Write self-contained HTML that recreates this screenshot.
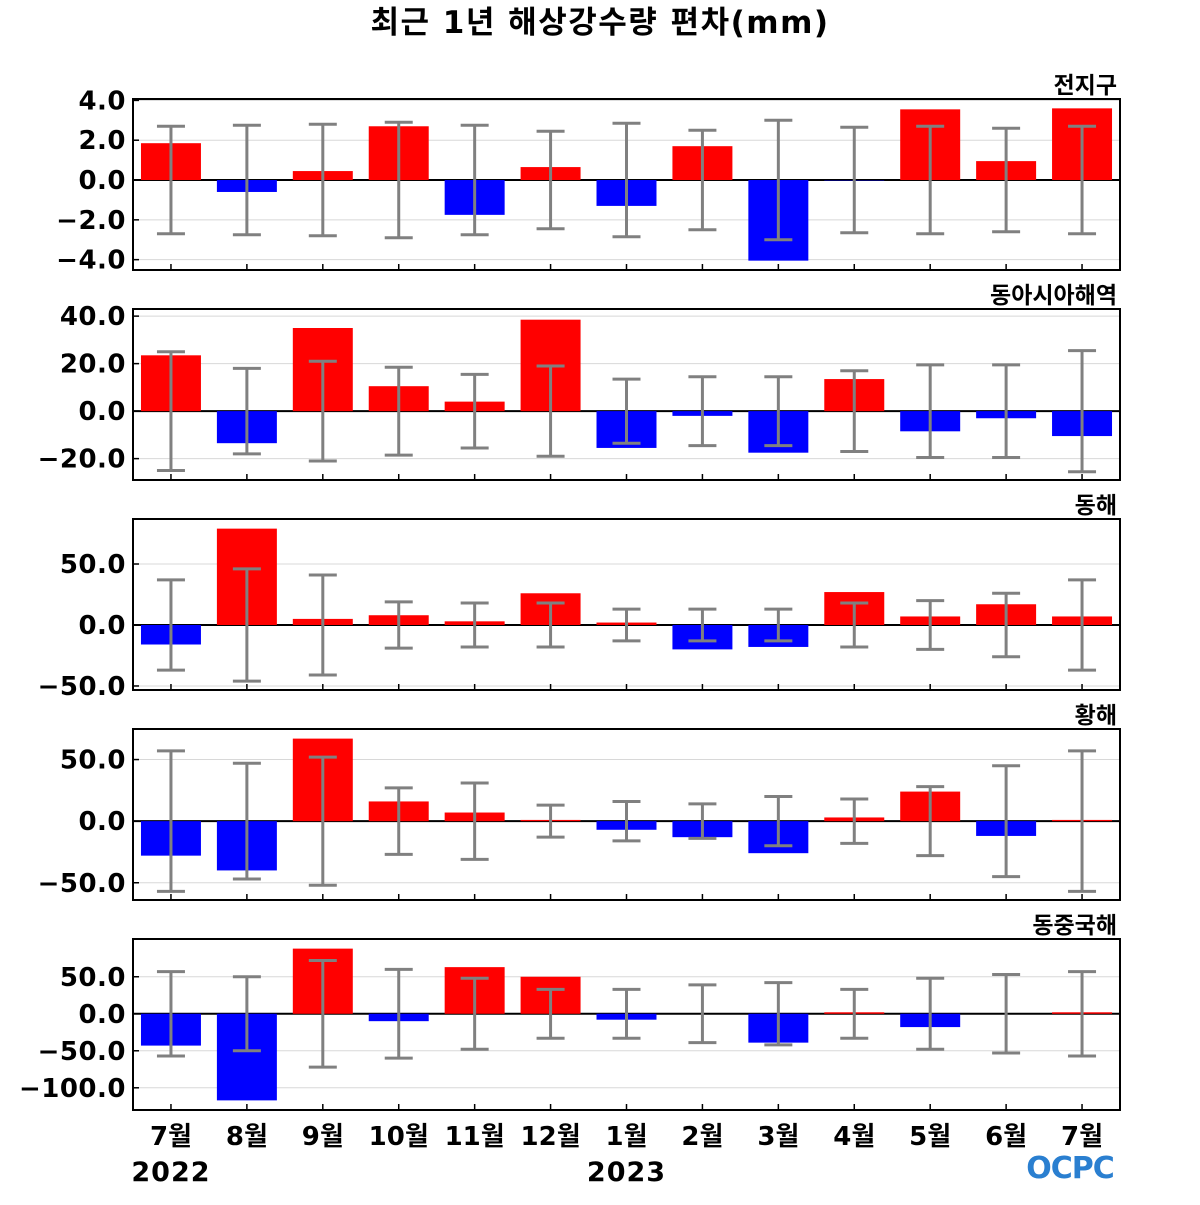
<!DOCTYPE html>
<html><head><meta charset="utf-8">
<style>
html,body{margin:0;padding:0;background:#fff;}
svg text{font-family:"DejaVu Sans","Liberation Sans","Noto Sans CJK KR",sans-serif;}
</style></head>
<body>
<svg id="chart" width="1200" height="1200" viewBox="0 0 1200 1200" xmlns="http://www.w3.org/2000/svg">
<text x="600" y="33" text-anchor="middle" font-size="31" font-weight="bold" letter-spacing="1.5" font-family="'DejaVu Sans','Noto Sans CJK KR',sans-serif">최근 1년 해상강수량 편차(mm)</text>
<g id="panels"></g>
<g>
<text x="1070" y="1178" text-anchor="middle" font-size="30" font-weight="bold" fill="#2a7fd0" font-family="'DejaVu Sans',sans-serif" letter-spacing="-1">OCPC</text>
</g>
</svg>
<script>
const months = ["7월","8월","9월","10월","11월","12월","1월","2월","3월","4월","5월","6월","7월"];
const regionNames = ["전지구","동아시아해역","동해","황해","동중국해"];
const valsGlobal = [1.85,-0.6,0.45,2.7,-1.75,0.65,-1.3,1.7,-4.05,-0.02,3.55,0.95,3.6];
const errGlobal = [2.7,2.75,2.8,2.9,2.75,2.45,2.85,2.5,3.0,2.65,2.7,2.6,2.7];
const valsEastAsia = [23.5,-13.5,35,10.5,4,38.5,-15.5,-2,-17.5,13.5,-8.5,-3,-10.5];
const errEastAsia = [25,18,21,18.5,15.5,19,13.5,14.5,14.5,17,19.5,19.5,25.5];
const valsEastSea = [-16,79,5,8,3,26,2,-20,-18,27,7,17,7];
const errEastSea = [37,46,41,19,18,18,13,13,13,18,20,26,37];
const valsYellowSea = [-28,-40,67,16,7,1,-7,-13,-26,3,24,-12,1];
const errYellowSea = [57,47,52,27,31,13,16,14,20,18,28,45,57];
const valsECS = [-43,-117,88,-10,63,50,-8,0,-39,2,-18,0,2];
const errECS = [57,50,72,60,48,33,33,39,42,33,48,53,57];
const ticksGlobal = [-4,-2,0,2,4];
const ticksEastAsia = [-20,0,20,40];
const ticksEastSea = [-50,0,50];
const ticksYellowSea = [-50,0,50];
const ticksECS = [-100,-50,0,50];

const NS="http://www.w3.org/2000/svg";
const L=133,R=1120;
const panels=[
 {name:"global",vals:valsGlobal,err:errGlobal,ticks:ticksGlobal,top:99,bot:270,ymin:-4.52,ymax:4.07,dec:1},
 {name:"east-asia",vals:valsEastAsia,err:errEastAsia,ticks:ticksEastAsia,top:309,bot:480,ymin:-29,ymax:43,dec:1},
 {name:"east-sea",vals:valsEastSea,err:errEastSea,ticks:ticksEastSea,top:519,bot:690,ymin:-53.3,ymax:86.9,dec:1},
 {name:"yellow-sea",vals:valsYellowSea,err:errYellowSea,ticks:ticksYellowSea,top:729,bot:900,ymin:-64,ymax:74.8,dec:1},
 {name:"east-china-sea",vals:valsECS,err:errECS,ticks:ticksECS,top:939,bot:1110,ymin:-130,ymax:101,dec:1}
];
const g=document.getElementById('panels');
function mk(tag,attrs,parent){const e=document.createElementNS(NS,tag);for(const k in attrs)e.setAttribute(k,attrs[k]);(parent||g).appendChild(e);return e;}
const n=months.length;
const xs=i=>L+(i+0.5)*(R-L)/n;
const bw=(R-L)/n*0.79;
panels.forEach((p,pi)=>{
 const y=v=>p.bot-(v-p.ymin)/(p.ymax-p.ymin)*(p.bot-p.top);
 const pg=mk('g',{});
 
 
 const t=mk('text',{x:R-3,y:p.top-6,'text-anchor':'end','font-size':23,'font-weight':'bold','font-family':"'Noto Sans CJK KR',sans-serif"},pg);
 t.textContent=regionNames[pi];
 
 
 p.ticks.forEach(tv=>{
  const yy=y(tv);
  if(tv!==0){const gl=mk('line',{x1:L,x2:R,y1:yy,y2:yy,stroke:'#d8d8d8','stroke-width':1},pg);
  
  }
  mk('line',{x1:L,x2:L+6,y1:yy,y2:yy,stroke:'#000','stroke-width':1.5},pg);
  const lb=mk('text',{x:126,y:yy+9,'text-anchor':'end','font-size':26,'font-weight':'bold','letter-spacing':'0.5'},pg);
  lb.textContent=(tv<0?'\u2212':'')+Math.abs(tv).toFixed(p.dec);
  
  
 });
 const y0=y(0);
 mk('line',{x1:L,x2:R,y1:y0,y2:y0,stroke:'#000','stroke-width':2},pg);
 p.vals.forEach((v,i)=>{
  const cx=xs(i);
  const r=mk('rect',{x:cx-bw/2,y:Math.min(y(v),y0),width:bw,height:Math.abs(y(v)-y0),fill:v>=0?'#ff0000':'#0000ff'},pg);
  
  
 });
 p.err.forEach((e,i)=>{
  const cx=xs(i),a=y(e),b=y(-e);
  const eg=mk('g',{stroke:'#808080','stroke-width':3},pg);
  
  
  mk('line',{x1:cx,x2:cx,y1:a,y2:b},eg);
  mk('line',{x1:cx-14,x2:cx+14,y1:a,y2:a},eg);
  mk('line',{x1:cx-14,x2:cx+14,y1:b,y2:b},eg);
  mk('line',{x1:cx,x2:cx,y1:p.bot,y2:p.bot-6,stroke:'#000','stroke-width':1.5},pg);
 });
 mk('rect',{x:L,y:p.top,width:R-L,height:p.bot-p.top,fill:'none',stroke:'#000','stroke-width':2},pg);
});
months.forEach((m,i)=>{
 const t=mk('text',{x:xs(i),y:1145,'text-anchor':'middle','font-size':26,'font-weight':'bold','font-family':"'DejaVu Sans','Noto Sans CJK KR',sans-serif"});
 t.textContent=m;
 
 
});
[["2022",0],["2023",6]].forEach(([yr,i])=>{
 const t=mk('text',{x:xs(i),y:1181,'text-anchor':'middle','font-size':27,'font-weight':'bold','letter-spacing':'1'});
 t.textContent=yr;
 
 
});
</script>
</body></html>
